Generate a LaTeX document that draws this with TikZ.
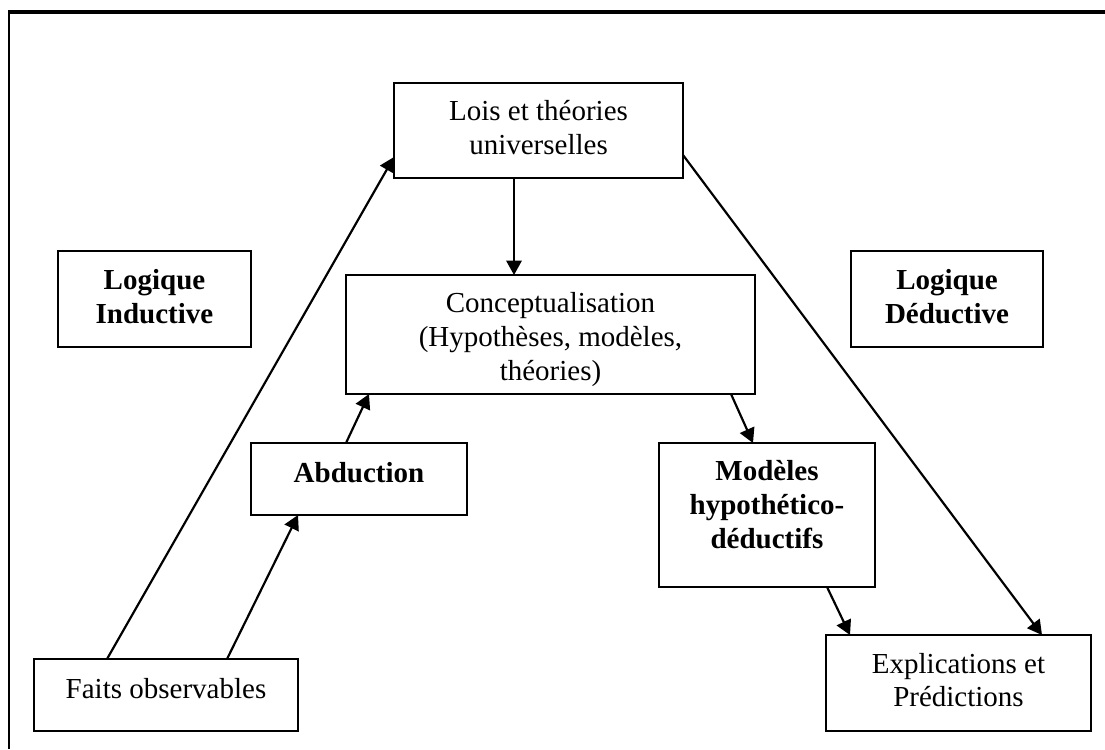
\documentclass[tikz,border=0pt]{standalone}
\usepackage{fontspec}
\setmainfont{Liberation Serif}
\usetikzlibrary{arrows.meta}
\def\u{0.4138pt}
\newcommand\fst{\rule{0pt}{10pt}}
\tikzset{
  box/.style={draw, line width=0.9pt, inner sep=0pt, outer sep=0pt},
  lbl/.style={anchor=north, inner sep=0pt, align=center, font=\fontsize{12}{14}\selectfont},
  blbl/.style={lbl, font=\fontsize{12}{14}\selectfont\bfseries},
  arr/.style={line width=0.9pt, -{Triangle[length=6pt, width=6.4pt]}}
}
\begin{document}
\begin{tikzpicture}[x=0.4138pt, y=-0.4138pt]
\useasboundingbox (0,0) rectangle (1105,749);
% outer frame (partly visible)
\draw[line width=1.25pt] (8,12) -- (1105,12);
\draw[line width=0.9pt] (9,12) -- (9,749);
% boxes
\node[box, minimum width=289*\u, minimum height=95*\u]  (lois)    at (538.5,130.5) {};
\node[box, minimum width=409*\u, minimum height=119*\u] (concept) at (550.5,334.5) {};
\node[box, minimum width=193*\u, minimum height=96*\u]  (logind)  at (154.5,299) {};
\node[box, minimum width=192*\u, minimum height=96*\u]  (logded)  at (947,299) {};
\node[box, minimum width=216*\u, minimum height=72*\u]  (abduc)   at (359,479) {};
\node[box, minimum width=216*\u, minimum height=144*\u] (modeles) at (767,515) {};
\node[box, minimum width=264*\u, minimum height=72*\u]  (faits)   at (166,695) {};
\node[box, minimum width=265*\u, minimum height=96*\u]  (expl)    at (958.5,683) {};
% texts
\node[lbl]  (loist)    at (538.5,95.8)  {\fst Lois et théories\\universelles};
\node[lbl]  (conceptt) at (550.5,288.3) {\fst Conceptualisation\\(Hypothèses, modèles,\\théories)};
\node[blbl] (logindt)  at (154.5,264.8) {\fst Logique\\Inductive};
\node[blbl] (logdedt)  at (947,264.8)   {\fst Logique\\Déductive};
\node[blbl] (abduct)   at (359,457.5)   {\fst Abduction};
\node[blbl] (modelest) at (767,455.8)   {\fst Modèles\\hypothético-\\déductifs};
\node[lbl]  (faitst)   at (166,673.8)   {\fst Faits observables};
\node[lbl]  (explt)    at (958.5,648.5) {\fst Explications et\\Prédictions};
% connectors
\draw[arr] ([xshift=73*\u]faits.north west) -- ([yshift=-74*\u]lois.north west);
\draw[arr] ([xshift=193*\u]faits.north west) -- ([xshift=47*\u]abduc.south west);
\draw[arr] ([xshift=95*\u]abduc.north west) -- ([xshift=23*\u]concept.south west);
\draw[arr] ([xshift=120*\u]lois.south west) -- ([xshift=168*\u]concept.north west);
\draw[arr] ([xshift=385*\u]concept.south west) -- ([xshift=94*\u]modeles.north west);
\draw[arr] ([yshift=-72*\u]lois.north east) -- ([xshift=216*\u]expl.north west);
\draw[arr] ([xshift=168*\u]modeles.south west) -- ([xshift=24*\u]expl.north west);
\end{tikzpicture}
\end{document}
